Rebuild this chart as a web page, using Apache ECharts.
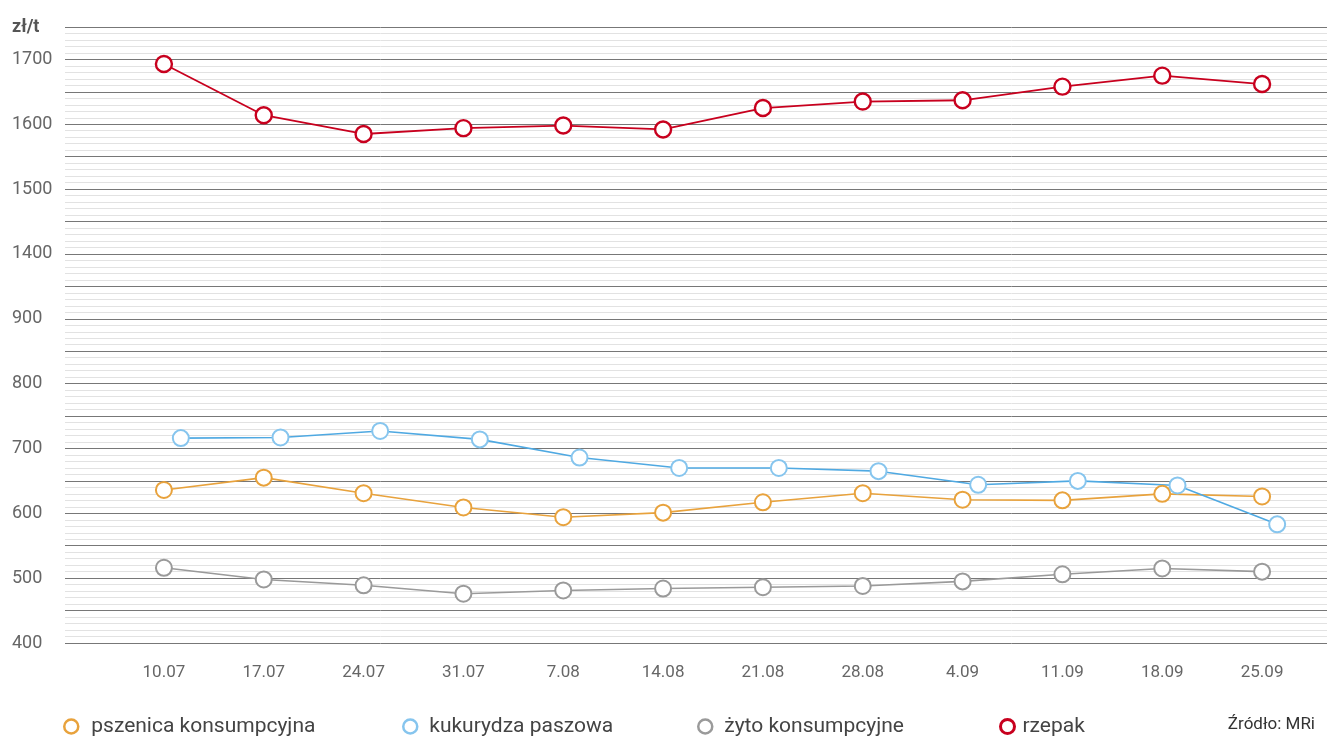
<!DOCTYPE html>
<html>
<head>
<meta charset="utf-8">
<script src="https://cdn.jsdelivr.net/npm/echarts@6/dist/echarts.min.js"></script>
<style>
html,body{margin:0;padding:0;background:#fff;}
#c{width:1327px;height:738px;}
</style>
</head>
<body>
<div id="c"></div>
<script>
// ---- data ----
var categories = ['10.07','17.07','24.07','31.07','7.08','14.08','21.08','28.08','4.09','11.09','18.09','25.09'];
var pszenica  = [636, 655, 631, 609, 594, 601, 617, 631, 621, 620, 630, 626];
var kukurydza = [716, 717, 727, 714, 686, 670, 670, 665, 644, 650, 643, 583];
var zyto      = [516, 498, 489, 476, 481, 484, 486, 488, 495, 506, 515, 510];
var rzepak    = [1693, 1614, 1585, 1594, 1598, 1592, 1625, 1635, 1637, 1658, 1675, 1662];
var seriesNames = ['pszenica konsumpcyjna', 'kukurydza paszowa', 'żyto konsumpcyjne', 'rzepak'];
var yTickLabels = [400, 500, 600, 700, 800, 900, 1400, 1500, 1600, 1700];
var unitLabel = 'zł/t';
var sourceText = 'Źródło: MRi';

// broken value scale: 900 -> 1400 collapsed into one 100-step
var BREAK_LO = 900, BREAK_HI = 1400, BREAK_SHIFT = BREAK_HI - BREAK_LO - 100;
function toScale(v){ return v >= BREAK_HI ? v - BREAK_SHIFT : v; }
function fromScale(t){ return t > BREAK_LO + 50 ? t + BREAK_SHIFT : t; }
var Y_MIN = 400, Y_MAX = toScale(1750);

var colors = {
  pszenica: '#E8A23C',
  kukurydza: '#4FA9E2',
  kukurydzaSym: '#86C5EE',
  zyto: '#9A9A9A',
  rzepak: '#C8001E'
};
var FONT = 'Roboto, "Noto Sans", sans-serif';

var chart = echarts.init(document.getElementById('c'), null, {renderer:'canvas'});

function mkSeries(name, arr, color, symColor, axisIdx, bw, lw){
  return {
    name: name, type: 'line',
    xAxisIndex: axisIdx, yAxisIndex: axisIdx,
    data: arr.map(toScale),
    symbol: 'circle', symbolSize: 16,
    showAllSymbol: true,
    lineStyle: {color: color, width: lw || 1.6},
    itemStyle: {color: '#fff', borderColor: symColor, borderWidth: bw || 2},
    emphasis: {disabled: true},
    z: 3
  };
}
function legendFor(name, left, iw, color, bw){
  return {
    left: left, top: 711, itemWidth: iw, itemHeight: 14, itemGap: 0,
    icon: 'circle', selectedMode: false,
    textStyle: {fontFamily: FONT, fontSize: 21, color: '#444'},
    data: [{name: name, icon: 'circle', itemStyle: {color: '#fff', borderColor: color, borderWidth: bw}}]
  };
}

var hiddenY = function(gi){ return {gridIndex: gi, type:'value', min:Y_MIN, max:Y_MAX, show:false, splitLine:{show:false}}; };

chart.setOption({
  animation: false,
  backgroundColor: '#fff',
  grid: [
    {left: 65, right: 0, top: 27, bottom: 95},
    {left: 114, right: 15, top: 27, bottom: 95},
    {left: 131, right: -2, top: 27, bottom: 95}
  ],
  xAxis: [
    {gridIndex: 0, type: 'category', data: categories, show: false},
    {gridIndex: 1, type: 'category', data: categories, boundaryGap: true,
      axisLine: {show: false}, axisTick: {show: false}, splitLine: {show: false},
      axisLabel: {margin: 21, color: '#666', fontSize: 17, fontFamily: FONT, interval: 0}},
    {gridIndex: 2, type: 'category', data: categories, show: false}
  ],
  yAxis: [
    {gridIndex: 0, type: 'value', min: Y_MIN, max: Y_MAX, interval: 50,
      axisLine: {show: false}, axisTick: {show: false},
      splitLine: {show: true, lineStyle: {color: '#777', width: 1}},
      minorTick: {show: false, splitNumber: 5},
      minorSplitLine: {show: true, lineStyle: {color: '#e2e2e2', width: 1}},
      axisLabel: {
        show: true, align: 'left', margin: 53, color: '#666', fontSize: 18, fontFamily: FONT,
        formatter: function(v){
          if (v === Y_MAX) return '{u|' + unitLabel + '}';
          var real = fromScale(v);
          return yTickLabels.indexOf(real) >= 0 ? String(real) : '';
        },
        rich: {u: {fontWeight: 'bold', color: '#555', fontSize: 18, fontFamily: FONT}}
      }},
    hiddenY(1),
    hiddenY(2)
  ],
  legend: [
    legendFor(seriesNames[0], 58, 30, colors.pszenica, 2.5),
    legendFor(seriesNames[1], 397, 28, colors.kukurydzaSym, 2.5),
    legendFor(seriesNames[2], 692, 28, colors.zyto, 2.5),
    legendFor(seriesNames[3], 994, 20, colors.rzepak, 3)
  ],
  graphic: [{
    type: 'text', right: 12, top: 716,
    style: {text: sourceText, fill: '#333', font: '17px ' + FONT}
  }],
  series: [
    mkSeries(seriesNames[0], pszenica, colors.pszenica, colors.pszenica, 1, 2),
    mkSeries(seriesNames[1], kukurydza, colors.kukurydza, colors.kukurydzaSym, 2, 2),
    mkSeries(seriesNames[2], zyto, colors.zyto, colors.zyto, 1, 2),
    mkSeries(seriesNames[3], rzepak, colors.rzepak, colors.rzepak, 1, 2.4, 1.8)
  ]
});
</script>
</body>
</html>
